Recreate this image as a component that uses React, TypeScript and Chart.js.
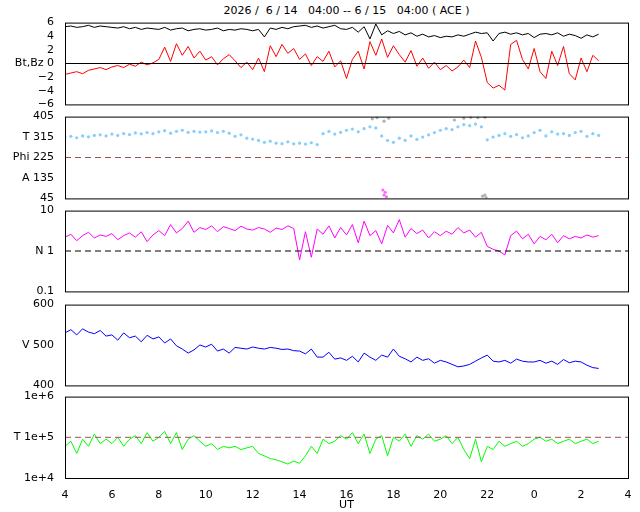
import { useEffect, useRef } from "react"
import { Chart, registerables } from "chart.js"

Chart.register(...registerables)

const START = 4
const STEP = 0.25

const bt = [
  5.4, 5.5, 5.3, 5.4, 5.6, 5.3, 5.5, 5.4, 5.3, 5.2, 5.4, 5.1, 5.3, 5.0, 5.2, 5.1,
  5.0, 5.3, 4.9, 5.1, 5.2, 4.8, 5.0, 5.1, 4.9, 5.0, 5.2, 4.8, 5.0, 4.9, 5.1, 5.0,
  4.8, 5.0, 3.9, 5.2, 5.0, 5.3, 5.1, 5.4, 5.5, 5.6, 5.3, 5.5, 5.2, 5.4, 5.6, 5.1,
  5.0, 5.3, 4.6, 5.4, 3.6, 5.8, 4.2, 4.8, 4.4, 4.7, 4.2, 4.5, 4.0, 4.3, 3.9, 4.1,
  3.8, 4.0, 3.9, 4.2, 4.0, 4.3, 4.6, 4.4, 4.5, 3.3, 4.4, 4.6, 4.3, 4.5, 4.2, 4.4,
  3.8, 4.3, 4.4, 4.2, 4.5, 4.0, 4.3, 4.1, 3.7, 4.2, 3.9, 4.3,
]
const bz = [
  -1.6, -1.4, -1.2, -1.5, -1.0, -0.8, -0.6, -0.9, -0.5, -0.3, -0.6, -0.1, -0.4, 0.2, -0.2, 0.1,
  0.6, 2.4, 0.3, 2.9, 1.2, 2.5, 0.8, 1.8, 0.5, 1.0, -0.2, 0.7, 1.3, 0.4, -0.6, 0.2,
  -0.9, 0.8, -1.2, 2.6, 1.0, 2.8, 1.5, 2.2, 0.6, 1.4, -0.3, 1.0, 0.3, 1.8, -0.5, 0.4,
  -2.2, 0.6, 1.8, -0.8, 3.2, 1.2, 3.6, 0.9, 2.6, 1.3, 0.2, 1.9, -0.4, 0.8, -0.7, 0.2,
  -0.9, -0.3, -1.1, -0.5, 0.5, -0.6, 3.3, 0.9, -2.8, -3.6, -3.2, -3.9, 2.8, 3.4, 0.6, -0.8,
  2.2, -1.2, -2.2, 1.8, -0.3, 2.5, -1.5, -2.4, 0.8, -1.2, 1.2, 0.4,
]
const theta = [
  315, 318, 312, 320, 316, 322, 325, 320, 328, 322, 330, 326, 333, 329, 335, 330,
  338, 343, 332, 340, 345, 336, 340, 337, 338, 342, 335, 340, 332, 318, 325, 310,
  306, 300, 292, 297, 288, 286, 294, 285, 288, 284, 290, 282, 330, 340, 328, 336,
  345, 350, 338, 352, 360, 355, 320, 300, 292, 310, 300, 320, 305, 315, 325, 335,
  345, 352, 348, 360, 370, 365, 372, 360, 303, 315, 322, 330, 318, 326, 312, 320,
  335, 345, 320, 338, 328, 330, 322, 335, 340, 318, 330, 322,
]
const greyPts: [number, number][] = [
  [17.1, 395], [17.3, 400], [17.6, 385], [17.8, 398], [20.6, 390], [21.0, 398],
  [21.3, 402], [21.6, 400], [21.9, 402], [21.8, 55], [21.9, 60], [21.95, 48],
]
const magentaPts: [number, number][] = [[17.55, 82], [17.6, 60], [17.65, 72], [17.7, 52]]
const dens = [
  2.2, 2.6, 1.8, 2.4, 2.9, 2.1, 2.5, 2.3, 2.7, 1.9, 2.4, 2.8, 2.2, 3.0, 1.7, 2.5,
  3.2, 2.4, 4.5, 2.8, 3.6, 5.5, 2.9, 3.8, 3.4, 4.2, 3.0, 4.0, 3.6, 3.2, 4.1, 3.5,
  3.3, 3.8, 3.5, 2.9, 3.7, 3.4, 4.2, 3.6, 0.6, 3.0, 0.7, 3.5, 2.6, 4.2, 2.1, 3.8,
  2.5, 4.5, 1.6, 5.5, 2.4, 3.2, 1.5, 4.3, 2.8, 6.0, 2.2, 3.6, 2.7, 3.3, 2.1, 3.0,
  2.4, 3.1, 2.6, 3.8, 2.8, 3.3, 2.2, 2.9, 1.3, 1.1, 1.0, 0.8, 2.4, 3.1, 2.0, 2.6,
  1.5, 2.3, 1.9, 2.6, 1.6, 2.4, 2.0, 2.3, 2.1, 2.5, 2.2, 2.4,
]
const speed = [
  530, 538, 525, 540, 532, 528, 536, 522, 525, 512, 530, 518, 522, 508, 524, 515,
  520, 505, 515, 498, 490, 480, 488, 500, 495, 502, 485, 490, 480, 494, 492, 490,
  495, 492, 490, 494, 492, 489, 490, 486, 485, 478, 490, 470, 470, 482, 465, 468,
  462, 472, 458, 480, 470, 462, 475, 470, 490, 472, 466, 458, 470, 462, 466, 455,
  462, 458, 452, 446, 448, 452, 460, 468, 475, 460, 458, 462, 455, 465, 460, 458,
  458, 462, 455, 460, 452, 464, 456, 460, 458, 450, 444, 442,
]
const temp = [
  6e4, 8e4, 4e4, 9e4, 6e4, 1.2e5, 7e4, 9e4, 7e4, 1.0e5, 6e4, 9e4, 1.1e5, 7e4, 1.3e5, 8e4,
  1.0e5, 1.4e5, 7e4, 1.3e5, 5e4, 9e4, 1.1e5, 8e4, 6e4, 7e4, 5e4, 6e4, 5.5e4, 6e4, 5e4, 5.5e4,
  6e4, 4e4, 3.5e4, 3e4, 2.8e4, 2.5e4, 2.2e4, 2.6e4, 2.3e4, 3.5e4, 6e4, 4e4, 9e4, 7e4, 8e4, 1.1e5,
  9e4, 1.3e5, 7e4, 1.2e5, 4e4, 9e4, 1.1e5, 3.5e4, 1.0e5, 8e4, 1.2e5, 6e4, 1.1e5, 9e4, 1.2e5, 8e4,
  9e4, 1.1e5, 7e4, 1.0e5, 5e4, 3e4, 9e4, 2.5e4, 6e4, 5e4, 8e4, 6e4, 7e4, 8e4, 6e4, 7e4,
  9e4, 1.0e5, 8e4, 9e4, 7e4, 8e4, 9e4, 7e4, 8e4, 9e4, 7e4, 8e4,
]

const FONT = { family: "DejaVu Sans", size: 11 }
const pts = (v: number[]) => v.map((y, i) => ({ x: START + i * STEP, y }))
const hline = (y: number, color: string, dash: number[]) => ({
  type: "line" as const,
  data: [{ x: 4, y }, { x: 28, y }],
  borderColor: color,
  borderWidth: 1,
  borderDash: dash,
  pointRadius: 0,
})
const line = (v: number[], color: string) => ({
  type: "line" as const,
  data: pts(v),
  borderColor: color,
  borderWidth: 1,
  pointRadius: 0,
})
const dots = (d: { x: number; y: number }[], color: string) => ({
  type: "scatter" as const,
  data: d,
  backgroundColor: color,
  borderWidth: 0,
  pointRadius: 1.6,
})

const frame = {
  id: "frame",
  afterDraw(c: Chart) {
    const { ctx, chartArea: a } = c
    ctx.save()
    ctx.strokeStyle = "#000"
    ctx.lineWidth = 1
    ctx.strokeRect(a.left + 0.5, a.top + 0.5, a.right - a.left, a.bottom - a.top)
    ctx.restore()
  },
}

interface PanelDef {
  top: number
  height: number
  bottom: boolean
  datasets: any[]
  y: any
}

const panels: PanelDef[] = [
  {
    top: 13, height: 101, bottom: false,
    datasets: [hline(0, "#000", []), line(bt, "#000"), line(bz, "#ff0000")],
    y: {
      type: "linear", min: -6, max: 6,
      ticks: { stepSize: 2, callback: (v: number) => (v === 0 ? "Bt,Bz 0" : String(v).replace("-", "−")) },
    },
  },
  {
    top: 107, height: 101, bottom: false,
    datasets: [
      hline(225, "#a05050", [6, 4]),
      dots(pts(theta), "#87cefa"),
      dots(greyPts.map(([x, y]) => ({ x, y })), "#b0b0b0"),
      dots(magentaPts.map(([x, y]) => ({ x, y })), "#ff66ff"),
    ],
    y: {
      type: "linear", min: 45, max: 405,
      ticks: {
        stepSize: 90,
        callback: (v: number) => ({ 315: "T 315", 225: "Phi 225", 135: "A 135" } as any)[v] ?? String(v),
      },
    },
  },
  {
    top: 201, height: 100, bottom: false,
    datasets: [hline(1, "#000", [6, 4]), line(dens, "#ff00ff")],
    y: {
      type: "logarithmic", min: 0.1, max: 10,
      afterBuildTicks: (s: any) => { s.ticks = [0.1, 1, 10].map((value) => ({ value })) },
      ticks: { callback: (v: number) => (v === 1 ? "N 1" : String(v)) },
    },
  },
  {
    top: 295, height: 100, bottom: false,
    datasets: [line(speed, "#0000ff")],
    y: {
      type: "linear", min: 400, max: 600,
      ticks: { stepSize: 100, callback: (v: number) => (v === 500 ? "V 500" : String(v)) },
    },
  },
  {
    top: 387, height: 125, bottom: true,
    datasets: [hline(1e5, "#a05050", [6, 4]), line(temp, "#00ff00")],
    y: {
      type: "logarithmic", min: 1e4, max: 1e6,
      afterBuildTicks: (s: any) => { s.ticks = [1e4, 1e5, 1e6].map((value) => ({ value })) },
      ticks: {
        callback: (v: number) => {
          const e = Math.round(Math.log10(v))
          return e === 5 ? "T 1e+5" : "1e+" + e
        },
      },
    },
  },
]

function Panel({ def }: { def: PanelDef }) {
  const ref = useRef<HTMLCanvasElement>(null)
  useEffect(() => {
    if (!ref.current) return
    const chart = new Chart(ref.current, {
      type: "line",
      data: { datasets: def.datasets },
      plugins: [frame],
      options: {
        animation: false,
        responsive: false,
        layout: { autoPadding: false, padding: { left: 0, right: 12, top: 6, bottom: def.bottom ? 0 : 6 } },
        plugins: { legend: { display: false }, tooltip: { enabled: false } },
        scales: {
          x: {
            type: "linear", min: 4, max: 28,
            display: def.bottom,
            grid: { display: false },
            border: { display: false },
            ticks: { stepSize: 2, color: "#000", font: FONT, padding: 3, callback: (v: any) => String(Number(v) % 24) },
            title: { display: true, text: "UT", color: "#000", font: FONT, padding: { top: 2, bottom: 0 } },
            afterFit: def.bottom ? (s: any) => { s.height = 34 } : undefined,
          },
          y: {
            ...def.y,
            grid: { display: false },
            border: { display: false },
            ticks: { ...def.y.ticks, color: "#000", font: FONT, autoSkip: false, padding: 3 },
            afterFit: (s: any) => { s.width = 65 },
          },
        },
      } as any,
    })
    return () => chart.destroy()
  }, [def])
  return (
    <canvas
      ref={ref}
      width={640}
      height={def.height}
      style={{ position: "absolute", left: 0, top: def.top, width: 640, height: def.height }}
    />
  )
}

export default function App() {
  return (
    <div style={{ position: "fixed", left: 0, top: 0, width: 640, height: 512, background: "#fff" }}>
      <div
        style={{
          position: "absolute", left: 65, width: 563, top: 4, textAlign: "center",
          font: "11px 'DejaVu Sans'", whiteSpace: "pre",
        }}
      >
        {"2026 /  6 / 14   04:00 -- 6 / 15   04:00 ( ACE )"}
      </div>
      {panels.map((p, i) => (
        <Panel key={i} def={p} />
      ))}
    </div>
  )
}
